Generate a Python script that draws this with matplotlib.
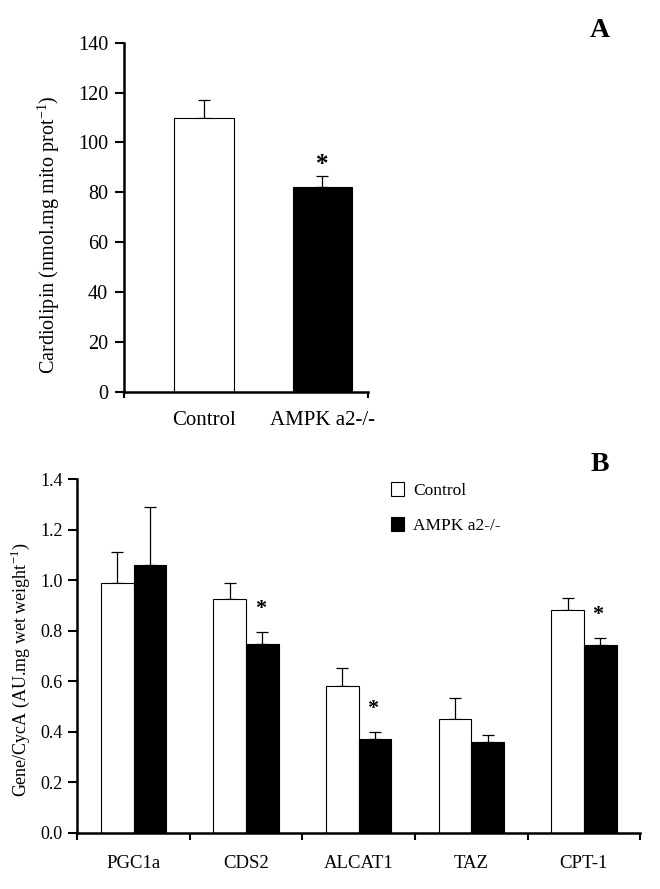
import matplotlib
matplotlib.use("Agg")
import matplotlib.pyplot as plt
import numpy as np

plt.rcParams['font.family'] = ['Liberation Serif', 'DejaVu Serif']

# Panel A data
a_groups = ["Control", "AMPK a2-/-"]
a_values = [110.0, 82.3]
a_errors = [7.1, 4.3]
a_sig = [False, True]

# Panel B data
b_genes = ["PGC1a", "CDS2", "ALCAT1", "TAZ", "CPT-1"]
b_control = [0.989, 0.925, 0.583, 0.453, 0.883]
b_control_err = [0.124, 0.064, 0.069, 0.082, 0.047]
b_ampk = [1.061, 0.749, 0.372, 0.359, 0.742]
b_ampk_err = [0.228, 0.046, 0.027, 0.027, 0.029]
b_sig = [False, True, True, False, True]

fig = plt.figure(figsize=(6.6, 8.89), dpi=100)

# ---------------- Panel A ----------------
axA = fig.add_axes([0.188, 0.559, 0.370, 0.393])
xa = np.arange(len(a_groups))
colors = ['white', 'black']
axA.bar(xa, a_values, width=0.5, color=colors, edgecolor='black', linewidth=0.8, zorder=2)
axA.errorbar(xa, a_values, yerr=[np.zeros(len(a_errors)), a_errors], fmt='none',
             ecolor='black', elinewidth=0.9, capsize=4, capthick=0.9, zorder=1)
for i, s in enumerate(a_sig):
    if s:
        axA.text(xa[i], a_values[i] + a_errors[i] + 4.5, '*', ha='center', va='center',
                 fontsize=18, fontweight='bold')
axA.set_xlim(-0.674, 1.388)
axA.set_ylim(0, 140)
axA.set_yticks(np.arange(0, 141, 20))
axA.set_xticks([-0.674, 1.388])
axA.set_xticklabels([])
axA.set_xticks(xa, minor=True)
axA.set_xticklabels(a_groups, minor=True, fontsize=15)
axA.tick_params(axis='x', which='minor', length=0, pad=14)
axA.tick_params(axis='x', which='major', length=4, width=1.5, direction='out')
axA.tick_params(axis='y', length=6.5, width=1.5, direction='out', labelsize=14.5, pad=5)
for sp in ['top', 'right']:
    axA.spines[sp].set_visible(False)
for sp in ['left', 'bottom']:
    axA.spines[sp].set_linewidth(1.8)
axA.set_ylabel('Cardiolipin (nmol.mg mito prot$^{\\mathregular{-1}}$)', fontsize=14.5, labelpad=6)
axA.yaxis.set_label_coords(-0.255, 0.45)
fig.text(0.909, 0.966, 'A', fontsize=20, fontweight='bold', ha='center', va='center')

# ---------------- Panel B ----------------
axB = fig.add_axes([0.117, 0.063, 0.853, 0.398])
xb = np.arange(len(b_genes))
bw = 0.29
axB.bar(xb - bw / 2, b_control, width=bw, color='white', edgecolor='black', linewidth=0.8,
        zorder=2, label='Control')
axB.bar(xb + bw / 2, b_ampk, width=bw, color='black', edgecolor='black', linewidth=0.8,
        zorder=2, label='AMPK a2-/-')
axB.errorbar(xb - bw / 2, b_control, yerr=[np.zeros(len(xb)), b_control_err], fmt='none',
             ecolor='black', elinewidth=0.9, capsize=4, capthick=0.9, zorder=1)
axB.errorbar(xb + bw / 2, b_ampk, yerr=[np.zeros(len(xb)), b_ampk_err], fmt='none',
             ecolor='black', elinewidth=0.9, capsize=4, capthick=0.9, zorder=1)
for i, s in enumerate(b_sig):
    if s:
        axB.text(xb[i] + bw / 2 - 0.02, b_ampk[i] + b_ampk_err[i] + 0.09, '*', ha='center',
                 va='center', fontsize=16, fontweight='bold')
axB.set_xlim(-0.5, 4.5)
axB.set_ylim(0, 1.4)
axB.set_yticks(np.arange(0, 1.41, 0.2))
axB.set_yticklabels([f'{v:.1f}' for v in np.arange(0, 1.41, 0.2)])
axB.set_xticks(np.arange(-0.5, 4.51, 1.0))
axB.set_xticklabels([])
axB.set_xticks(xb, minor=True)
axB.set_xticklabels(b_genes, minor=True, fontsize=13.5)
axB.tick_params(axis='x', which='minor', length=0, pad=16)
axB.tick_params(axis='x', which='major', length=5, width=1.5, direction='out')
axB.tick_params(axis='y', length=6.5, width=1.5, direction='out', labelsize=13, pad=4)
for sp in ['top', 'right']:
    axB.spines[sp].set_visible(False)
for sp in ['left', 'bottom']:
    axB.spines[sp].set_linewidth(1.8)
axB.set_ylabel('Gene/CycA (AU.mg wet weight$^{\\mathregular{-1}}$)', fontsize=13)
axB.yaxis.set_label_coords(-0.08, 0.46)
leg = axB.legend(loc='upper left', bbox_to_anchor=(0.53, 1.035), frameon=False,
                 fontsize=12.5, handlelength=0.75, handleheight=0.85, labelspacing=1.0,
                 handletextpad=0.5)
fig.text(0.909, 0.477, 'B', fontsize=20, fontweight='bold', ha='center', va='center')

fig.savefig('out.png', dpi=100)
